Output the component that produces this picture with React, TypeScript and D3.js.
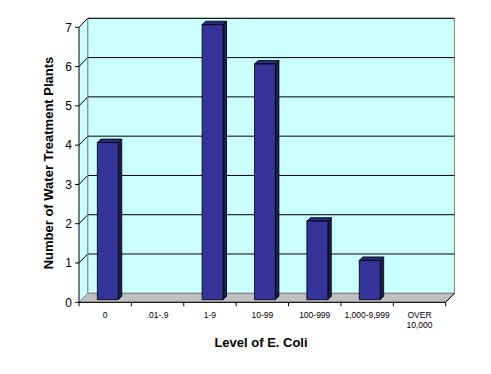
import React from "react";
import * as d3 from "d3";

const categories = ["0", ".01-.9", "1-9", "10-99", "100-999", "1,000-9,999", "OVER\n10,000"];
const values = [4, 0, 7, 6, 2, 1, 0];
const yTicks = [0, 1, 2, 3, 4, 5, 6, 7];

export default function App() {
  const W = 491, H = 374;
  const x0 = 79, x1 = 445.7, yBase = 302.3, plotH = 275;
  const DX = 8.7, DY = 9; // wall depth
  const bd = 3.5; // bar depth
  const boff = (DX - bd) / 2;

  const x = d3.scaleBand<string>().domain(categories).range([x0, x1]).padding(0);
  const y = d3.scaleLinear().domain([0, 7]).range([yBase, yBase - plotH]);
  const bw = x.bandwidth() * 0.4;

  const poly = (pts: [number, number][]) => pts.map((p) => p.join(",")).join(" ");

  return (
    <svg width={W} height={H} style={{ position: "absolute", left: 0, top: 0, background: "#fff" }}
      fontFamily="'Liberation Sans', Arial, sans-serif">
      {/* back wall */}
      <rect x={x0 + DX} y={y(7) - DY} width={x1 - x0} height={plotH} fill="#ccffff" stroke="#808080" strokeWidth={1} />
      {/* side wall */}
      <polygon points={poly([[x0, y(0)], [x0, y(7)], [x0 + DX, y(7) - DY], [x0 + DX, y(0) - DY]])} fill="#ccffff" stroke="none" />
      {/* gridlines */}
      {yTicks.slice(1).map((t) => (
        <g key={t}>
          <line x1={x0 + DX} x2={x1 + DX} y1={y(t) - DY} y2={y(t) - DY} stroke="#000" strokeWidth={1} />
          <line x1={x0} x2={x0 + DX} y1={y(t)} y2={y(t) - DY} stroke="#000" strokeWidth={1} />
        </g>
      ))}
      <line x1={x0 + DX} x2={x0 + DX} y1={y(7) - DY} y2={y(0) - DY} stroke="#808080" />
      {/* floor */}
      <polygon points={poly([[x0, y(0)], [x1, y(0)], [x1 + DX, y(0) - DY], [x0 + DX, y(0) - DY]])} fill="#c0c0c0" stroke="#808080" strokeWidth={1} />
      <line x1={x1} y1={y(0)} x2={x1 + DX} y2={y(0) - DY} stroke="#000" />
      {/* bars */}
      {categories.map((c, i) => {
        const v = values[i];
        if (v <= 0) return null;
        const cx = (x(c) as number) + x.bandwidth() / 2 + boff;
        const l = cx - bw / 2, r = cx + bw / 2;
        const b = y(0) - boff, t = y(v) - boff;
        return (
          <g key={c} stroke="#000" strokeWidth={0.8} strokeLinejoin="round">
            <polygon points={poly([[r, b], [r, t], [r + bd, t - bd], [r + bd, b - bd]])} fill="#1c1c52" />
            <polygon points={poly([[l, t], [r, t], [r + bd, t - bd], [l + bd, t - bd]])} fill="#2a2a7a" />
            <rect x={l} y={t} width={bw} height={b - t} fill="#333399" />
          </g>
        );
      })}
      {/* axes */}
      <line x1={x0} x2={x0} y1={y(7)} y2={y(0)} stroke="#000" />
      <line x1={x0} x2={x1} y1={y(0)} y2={y(0)} stroke="#000" />
      {yTicks.map((t) => (
        <g key={t}>
          <line x1={x0 - 4} x2={x0} y1={y(t)} y2={y(t)} stroke="#000" />
          <text x={72} y={y(t)} dy="0.36em" textAnchor="end" fontSize={12}>{t}</text>
        </g>
      ))}
      {categories.map((c, i) => (
        <line key={"t" + i} x1={x(c) as number} x2={x(c) as number} y1={y(0)} y2={y(0) + 4} stroke="#000" />
      ))}
      <line x1={x1} x2={x1} y1={y(0)} y2={y(0) + 4} stroke="#000" />
      {categories.map((c) => {
        const lines = c.split("\n");
        const cx = (x(c) as number) + x.bandwidth() / 2;
        return (
          <text key={"l" + c} x={cx} y={318} textAnchor="middle" fontSize={8.5}>
            {lines.map((ln, j) => (
              <tspan key={j} x={cx} dy={j === 0 ? 0 : 9.6}>{ln}</tspan>
            ))}
          </text>
        );
      })}
      <text x={261} y={347} textAnchor="middle" fontSize={13} fontWeight="bold">Level of E. Coli</text>
      <text transform={`translate(52.5,163) rotate(-90)`} textAnchor="middle" fontSize={13} fontWeight="bold">
        Number of Water Treatment Plants
      </text>
    </svg>
  );
}
